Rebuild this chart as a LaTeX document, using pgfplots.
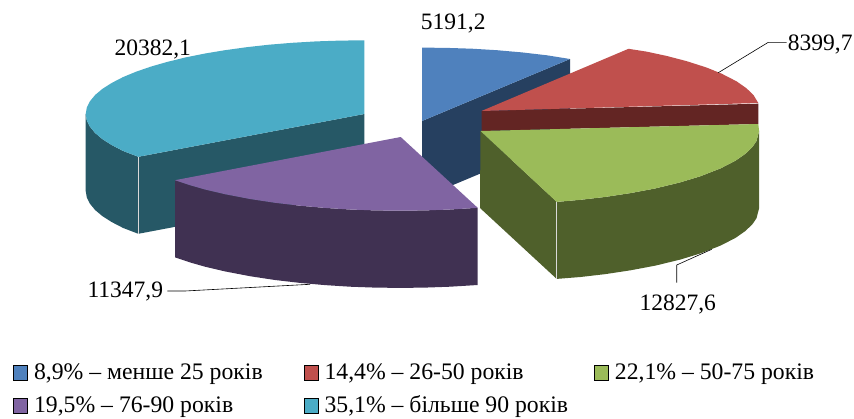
\documentclass[border=0pt]{standalone}
\usepackage{fontspec}
\setmainfont{Liberation Serif}
\usepackage{pgfplots}
\pgfplotsset{compat=1.18}
\definecolor{blueT}{HTML}{4F81BD}
\definecolor{blueS}{HTML}{264060}
\definecolor{redT}{HTML}{C0504D}
\definecolor{redS}{HTML}{632523}
\definecolor{greenT}{HTML}{9BBB59}
\definecolor{greenS}{HTML}{4F602B}
\definecolor{purpT}{HTML}{8064A2}
\definecolor{purpS}{HTML}{403152}
\definecolor{tealT}{HTML}{4BACC6}
\definecolor{tealS}{HTML}{265866}
\begin{document}
\begin{tikzpicture}
\begin{axis}[
  scale only axis, width=854pt, height=418pt,
  xmin=0, xmax=854, ymin=0, ymax=418, y dir=reverse,
  hide axis, clip=false,
  font=\fontsize{23.5}{28}\selectfont,
  legend columns=3,
  legend cell align=left,
  legend image code/.code={\fill[#1] (0pt,-7.5pt) rectangle (14pt,7.5pt);},
  legend style={at={(axis cs:13,362)}, anchor=north west, draw=none, fill=none,
    font=\fontsize{23.7}{28}\selectfont, row sep=10.5pt, inner sep=0pt,
    /tikz/column 1/.style={column sep=4.5pt},
    /tikz/column 2/.style={column sep=39pt},
    /tikz/column 3/.style={column sep=4.5pt},
    /tikz/column 4/.style={column sep=24pt},
    /tikz/column 5/.style={column sep=4.5pt}},
]
\addlegendimage{fill=blueT}\addlegendentry{8,9\% – менше 25 років}
\addlegendimage{fill=redT}\addlegendentry{14,4\% – 26-50 років}
\addlegendimage{fill=greenT}\addlegendentry{22,1\% – 50-75 років}
\addlegendimage{fill=purpT}\addlegendentry{19,5\% – 76-90 років}
\addlegendimage{fill=tealT}\addlegendentry{35,1\% – більше 90 років}

% teal slice
\addplot[fill=tealS, draw=none, forget plot] coordinates {(85.7,114) (86.8,120.4) (90,126.8) (95.2,133.1) (102.5,139.2) (111.8,145.1) (123,150.9) (138.3,156.8) (364.3,114) (364.3,191) (138.3,233.8) (123,227.9) (111.8,222.1) (102.5,216.2) (95.2,210.1) (90,203.8) (86.8,197.4) (85.7,191)} -- cycle;
\addplot[fill=tealT, draw=none, forget plot] coordinates {(364.3,40.3) (340,40.6) (315.9,41.4) (292.2,42.8) (269,44.7) (246.6,47.2) (225,50.2) (204.5,53.6) (185.2,57.5) (167.3,61.9) (150.9,66.6) (136.1,71.7) (123,77.1) (111.8,82.9) (102.5,88.8) (95.2,94.9) (90,101.2) (86.8,107.6) (85.7,114) (86.8,120.4) (90,126.8) (95.2,133.1) (102.5,139.2) (111.8,145.1) (123,150.9) (138.3,156.8) (364.3,114)} -- cycle;
\addplot[color=white!70!gray, line width=0.5pt, forget plot] coordinates {(138.3,156.8) (138.3,233.8)};

% blue slice
\addplot[fill=blueS, draw=none, forget plot] coordinates {(422,121) (570,59) (570,136) (422,198)} -- cycle;
\addplot[fill=blueT, draw=none, forget plot] coordinates {(422,47.6) (447,47.9) (472,48.7) (497,50.2) (522,52.4) (547,55.3) (570,59) (422,121)} -- cycle;

% red slice
\addplot[fill=redS, draw=none, forget plot] coordinates {(481.5,111) (758.3,103.7) (758.3,124) (481.5,131)} -- cycle;
\addplot[fill=redT, draw=none, forget plot] coordinates {(481.5,111) (628.5,48.8) (646.5,51.6) (666.5,55.9) (686.5,61.1) (706.5,67.5) (721.5,73.6) (736.5,81.3) (746.5,88.3) (753.5,95.1) (758.3,103)} -- cycle;

% green slice
\addplot[fill=greenS, draw=none, forget plot] coordinates {(480.5,131) (556.7,201.7) (556.7,278.9) (480,208)} -- cycle;
\addplot[fill=greenS, draw=none, forget plot] coordinates {(556.7,201.9) (580.5,199.8) (605.5,196.9) (630.5,193.1) (655.5,188.4) (680.5,182.3) (700.5,176.2) (720.5,168.4) (735.5,160.7) (745.5,153.7) (752.5,146.9) (756.5,141) (759.1,131) (759.1,208.2) (756.5,218.2) (752.5,224.1) (745.5,230.9) (735.5,237.9) (720.5,245.6) (700.5,253.4) (680.5,259.5) (655.5,265.6) (630.5,270.3) (605.5,274.1) (580.5,277) (556.7,278.9)} -- cycle;
\addplot[fill=greenT, draw=none, forget plot] coordinates {(480.5,131) (758.3,124) (759.1,131) (756.5,141) (752.5,146.9) (745.5,153.7) (735.5,160.7) (720.5,168.4) (700.5,176.2) (680.5,182.3) (655.5,188.4) (630.5,193.1) (605.5,196.9) (580.5,199.8) (556.7,201.9)} -- cycle;
\addplot[color=white!70!gray, line width=0.5pt, forget plot] coordinates {(556.7,201.9) (556.7,278.9)};

% purple slice
\addplot[fill=purpS, draw=none, forget plot] coordinates {(175,180.2) (190,185.2) (205,189.5) (225,194.2) (250,199) (275,202.8) (300,205.7) (325,207.9) (350,209.5) (375,210.4) (400.7,210.7) (425,210.4) (450,209.5) (477.7,207.8) (477.7,285) (450,286.7) (425,287.6) (400.7,287.9) (375,287.6) (350,286.7) (325,285.1) (300,282.9) (275,280) (250,276.2) (225,271.4) (205,266.7) (190,262.4) (175,257.4)} -- cycle;
\addplot[fill=purpT, draw=none, forget plot] coordinates {(400.7,137) (175,180.2) (190,185.2) (205,189.5) (225,194.2) (250,199) (275,202.8) (300,205.7) (325,207.9) (350,209.5) (375,210.4) (400.7,210.7) (425,210.4) (450,209.5) (477.7,207.8)} -- cycle;

% leader lines
\addplot[black, line width=0.6pt, forget plot] coordinates {(718.3,72.7) (768.3,42.3) (786.7,42.3)};
\addplot[black, line width=0.6pt, forget plot] coordinates {(711.7,249.3) (676.7,265) (676.7,282.7)};
\addplot[black, line width=0.6pt, forget plot] coordinates {(167.3,291) (185,291) (310,284.3)};

% value labels
\node[anchor=base west, inner sep=0pt] at (axis cs:420.7,29.3) {5191,2};
\node[anchor=base west, inner sep=0pt] at (axis cs:787.7,50) {8399,7};
\node[anchor=base west, inner sep=0pt] at (axis cs:639.3,310) {12827,6};
\node[anchor=base west, inner sep=0pt] at (axis cs:87.3,297.7) {11347,9};
\node[anchor=base west, inner sep=0pt] at (axis cs:114.3,55) {20382,1};
\end{axis}
\pgfresetboundingbox
\path[use as bounding box] (0,0) rectangle (854pt,418pt);
\end{tikzpicture}
\end{document}
